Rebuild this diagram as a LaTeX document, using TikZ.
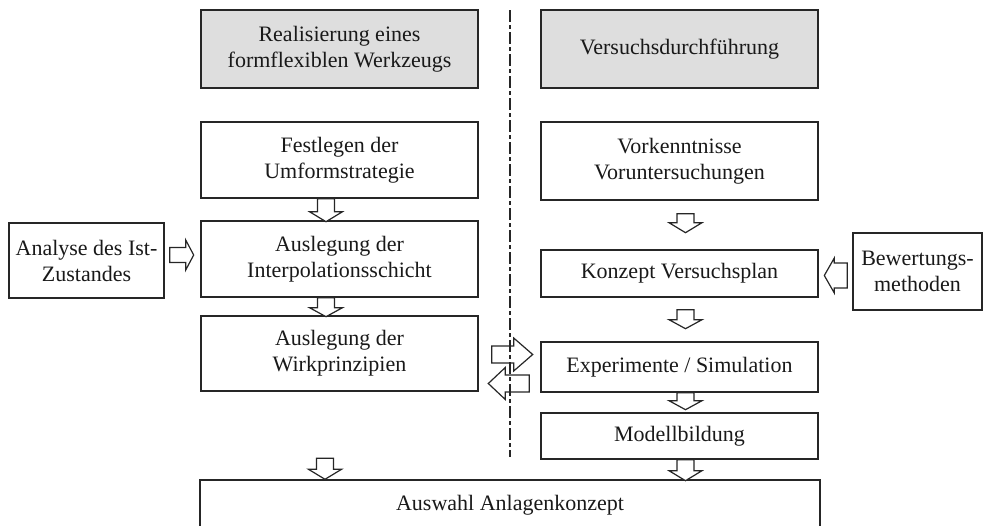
\documentclass[tikz,border=0pt]{standalone}
\usepackage{fontspec}
\setmainfont{Liberation Serif}
\usetikzlibrary{calc}
\definecolor{boxgray}{RGB}{222,222,222}
% down block arrow: #1 tail centre, #2 shaft length, #3 head length, #4 shaft half width, #5 head half width
\newcommand\dblock[5]{\draw[blk] #1 ++(-#4,0) -- ++(0,#2) -- ++(#4-#5,0) -- ++(#5,#3) -- ++(#5,-#3) -- ++(#4-#5,0) -- ++(0,-#2) -- cycle;}
\newcommand\rblock[5]{\draw[blk] #1 ++(0,-#4) -- ++(#2,0) -- ++(0,#4-#5) -- ++(#3,#5) -- ++(-#3,#5) -- ++(0,#4-#5) -- ++(-#2,0) -- cycle;}
\newcommand\lblock[5]{\draw[blk] #1 ++(0,-#4) -- ++(-#2,0) -- ++(0,#4-#5) -- ++(-#3,#5) -- ++(#3,#5) -- ++(0,#4-#5) -- ++(#2,0) -- cycle;}
\begin{document}
\begin{tikzpicture}[x=1pt,y=-1pt,
  box/.style={draw=black!85,line width=1.4pt,align=center,inner sep=0pt,
    font=\fontsize{22}{26}\selectfont,text=black!90},
  graybox/.style={box,fill=boxgray},
  blk/.style={draw=black!85,line width=1.2pt,fill=white,line join=miter},
  divider/.style={draw=black!85,line width=1.2pt,dash pattern=on 12pt off 3pt on 4pt off 3pt}]
\useasboundingbox (0,0) rectangle (983,525);
\clip (0,0) rectangle (983,525);

% header boxes
\node[graybox,minimum width=277pt,minimum height=78pt] (g1) at (339.5,49) {Realisierung eines\\formflexiblen Werkzeugs};
\node[graybox,minimum width=277pt,minimum height=78pt] (g2) at (679.5,49) {Versuchsdurchführung};

% left column
\node[box,minimum width=277pt,minimum height=76pt] (fest) at (339.5,160) {Festlegen der\\Umformstrategie};
\node[box,minimum width=277pt,minimum height=76pt] (interp) at (339.5,259) {Auslegung der\\Interpolationsschicht};
\node[box,minimum width=277pt,minimum height=75pt] (wirk) at (339.5,353.5) {Auslegung der\\Wirkprinzipien};
\node[box,minimum width=155pt,minimum height=75pt] (analyse) at (86.5,260.5) {Analyse des Ist-\\Zustandes};

% right column
\node[box,minimum width=277pt,minimum height=78pt] (vork) at (679.5,161) {Vorkenntnisse\\Voruntersuchungen};
\node[box,minimum width=277pt,minimum height=47pt] (konz) at (679.5,273.5) {Konzept Versuchsplan};
\node[box,minimum width=129pt,minimum height=77pt] (bew) at (917.5,271.5) {Bewertungs-\\methoden};
\node[box,minimum width=277pt,minimum height=50pt] (exp) at (679.5,367) {Experimente / Simulation};
\node[box,minimum width=277pt,minimum height=46pt] (mod) at (679.5,436) {Modellbildung};

% bottom box
\node[box,minimum width=620pt,minimum height=50pt] (ausw) at (510,505) {Auswahl Anlagenkonzept};

% block arrows, left column
\dblock{($(fest.south)+(-13.5,0)$)}{13}{10}{8.5}{16.5}
\dblock{($(interp.south)+(-13.5,0)$)}{10}{9}{8.5}{16.5}
\dblock{($(ausw.north)+(-185,-21)$)}{11}{10}{8.5}{16.5}
\rblock{($(analyse.east)+(5,-5.5)$)}{16}{8}{7.5}{15}

% block arrows, right column
\dblock{($(vork.south)+(6,13)$)}{9}{10}{8.5}{16.5}
\dblock{($(konz.south)+(6,12)$)}{10}{9}{8.5}{16.5}
\dblock{($(exp.south)+(6,0)$)}{8}{9}{8.5}{16.5}
\dblock{($(mod.south)+(6,0)$)}{11}{10}{8.5}{16.5}
\lblock{($(bew.west)+(-5,4)$)}{13}{10}{12.5}{17.5}

% exchange arrows
\rblock{($(wirk.east)+(13,1)$)}{22}{19}{8.5}{16.5}
\lblock{($(exp.west)+(-11,16.5)$)}{24}{17}{8.5}{16}

% divider
\coordinate (dtop) at (510,10);
\coordinate (dbot) at (510,457);
\draw[divider] (dtop) -- (dbot);
\end{tikzpicture}
\end{document}
